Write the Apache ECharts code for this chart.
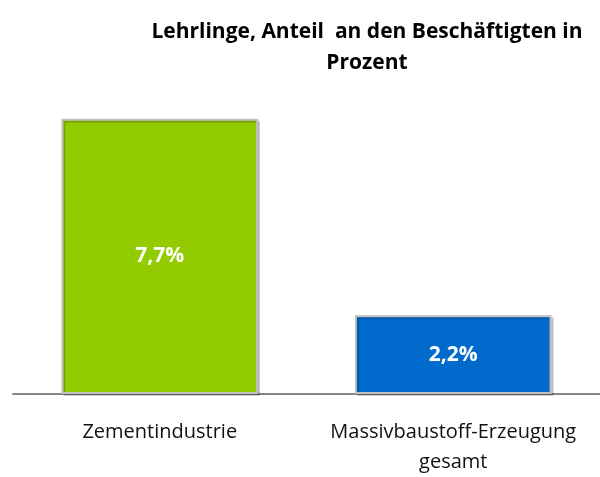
<!DOCTYPE html>
<html>
<head>
<meta charset="utf-8">
<script src="https://cdn.jsdelivr.net/npm/echarts@6/dist/echarts.min.js"></script>
<style>
	html, body { margin: 0; padding: 0; background: #fff; }
	#main { width: 600px; height: 477px; }
</style>
</head>
<body>
<div id="main"></div>
<script>
var categories = ['Zementindustrie', 'Massivbaustoff-Erzeugung\ngesamt'];
var values = [7.7, 2.2];
var barColors = ['#92CB00', '#006ACD'];

var chart = echarts.init(document.getElementById('main'));
var option = {
	animation: false,
	title: {
		text: 'Lehrlinge, Anteil  an den Beschäftigten in\nProzent',
		left: 362,
		top: 12,
		textAlign: 'center',
		textStyle: {
			fontFamily: 'Open Sans',
			fontSize: 21,
			fontWeight: 'bold',
			color: '#000',
			lineHeight: 31
		}
	},
	grid: {
		left: 13,
		right: 0,
		top: 108,
		bottom: 80
	},
	xAxis: {
		type: 'category',
		data: categories,
		axisLine: { lineStyle: { color: '#868686', width: 2 } },
		axisTick: { show: false },
		axisLabel: {
			interval: 0,
			hideOverlap: false,
			margin: 23,
			fontFamily: 'Open Sans',
			fontSize: 20,
			color: '#111',
			lineHeight: 30
		}
	},
	yAxis: {
		type: 'value',
		min: 0,
		max: 8,
		show: false
	},
	series: [{
		type: 'bar',
		barWidth: '67%',
		data: values.map(function(v, i) {
			return { value: v, itemStyle: { color: barColors[i] } };
		}),
		itemStyle: {
			borderColor: '#BFBFBF',
			borderWidth: 2,
			shadowColor: 'rgba(0,0,0,0.18)',
			shadowOffsetX: 2,
			shadowOffsetY: 2,
			shadowBlur: 0
		},
		label: {
			show: true,
			position: 'inside',
			color: '#fff',
			fontFamily: 'Open Sans',
			fontSize: 21,
			fontWeight: 'bold',
			formatter: function(p) {
				return p.value.toFixed(1).replace('.', ',') + '%';
			}
		}
	}]
};
chart.setOption(option);
</script>
</body>
</html>
